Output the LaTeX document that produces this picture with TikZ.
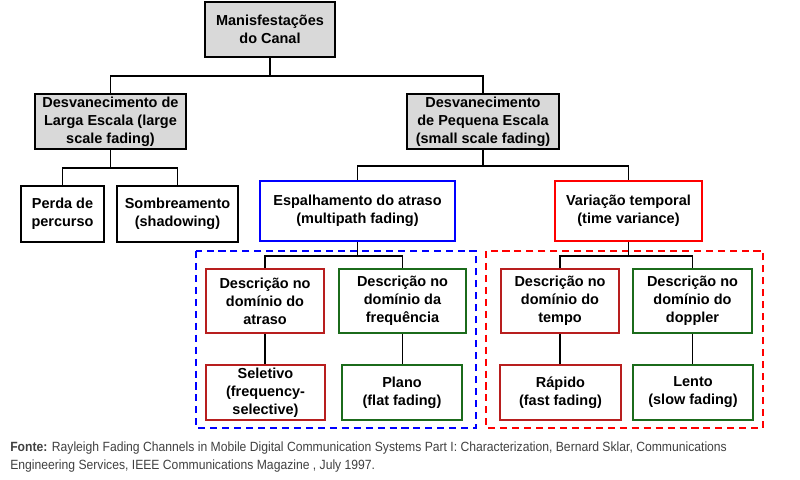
\documentclass[tikz,border=0pt]{standalone}
\usepackage{fontspec}
\setmainfont{Liberation Sans}
\newfontfamily\notefont[FakeStretch=0.91]{Liberation Sans}
\usetikzlibrary{positioning}
\definecolor{boxgray}{HTML}{D9D9D9}
\definecolor{darkred}{HTML}{B81E1E}
\definecolor{darkgreen}{HTML}{1B6B1B}
\definecolor{notegray}{HTML}{404040}
\tikzset{
	box/.style={draw, line width=1.3pt, align=center, inner sep=0pt, font=\fontsize{10.3}{12.8}\selectfont\bfseries},
	graybox/.style={box, fill=boxgray},
	conn/.style={line width=1.3pt},
	group/.style={line width=1.3pt, dash pattern=on 5pt off 3.5pt},
}

\begin{document}
\begin{tikzpicture}[x=0.025cm, y=-0.025cm]
	\useasboundingbox (0,0) rectangle (800,479);
	%\draw[thick,dotted] (0,0) rectangle (800,479);
	\node[graybox, minimum width=3.25cm, minimum height=1.375cm] (canal) at (270,29.5) {Manisfestações\\do Canal};
	\node[graybox, minimum width=3.775cm, minimum height=1.375cm] (larga) at (110.5,121.5) {Desvanecimento de\\Larga Escala (large\\scale fading)};
	\node[graybox, minimum width=3.8cm, minimum height=1.375cm] (pequena) at (483,121.5) {Desvanecimento\\de Pequena Escala\\(small scale fading)};

	\node[box, minimum width=2.075cm, minimum height=1.4cm] (perda) at (62.5,214) {Perda de\\percurso};
	\node[box, minimum width=3.025cm, minimum height=1.4cm] (sombra) at (177.5,214) {Sombreamento\\(shadowing)};
	\node[box, draw=blue, minimum width=4.875cm, minimum height=1.5cm] (espalha) at (357.5,211) {Espalhamento do atraso\\(multipath fading)};
	\node[box, draw=red, minimum width=3.675cm, minimum height=1.5cm] (variacao) at (628.5,211) {Variação temporal\\(time variance)};

	\draw[group, blue] (196,251) rectangle (476,428);
	\draw[group, red] (486,251) rectangle (763,428);

	\node[box, draw=darkred, minimum width=2.95cm, minimum height=1.6cm] (atraso) at (265,301) {Descrição no\\domínio do\\atraso};
	\node[box, draw=darkgreen, minimum width=3.175cm, minimum height=1.6cm] (frequencia) at (402.5,301) {Descrição no\\domínio da\\frequência};
	\node[box, draw=darkred, minimum width=2.95cm, minimum height=1.6cm] (tempo) at (560,301) {Descrição no\\domínio do\\tempo};
	\node[box, draw=darkgreen, minimum width=2.975cm, minimum height=1.6cm] (doppler) at (692.5,301) {Descrição no\\domínio do\\doppler};

	\node[box, draw=darkred, minimum width=2.975cm, minimum height=1.375cm] (seletivo) at (265.5,392.5) {Seletivo\\(frequency-\\selective)};
	\node[box, draw=darkgreen, minimum width=3cm, minimum height=1.375cm] (plano) at (402,392.5) {Plano\\(flat fading)};
	\node[box, draw=darkred, minimum width=3.025cm, minimum height=1.375cm] (rapido) at (560.5,392.5) {Rápido\\(fast fading)};
	\node[box, draw=darkgreen, minimum width=3cm, minimum height=1.375cm] (lento) at (693,392.5) {Lento\\(slow fading)};

	\draw[conn] (canal.south) -- ++(0,18) -| (larga.north);
	\draw[conn] (canal.south) ++(0,18) -| (pequena.north);
	\draw[conn] (larga.south) -- ++(0,18) -| (perda.north);
	\draw[conn] (larga.south) ++(0,18) -| (sombra.north);
	\draw[conn] (pequena.south) -- ++(0,16) -| (espalha.north);
	\draw[conn] (pequena.south) ++(0,16) -| (variacao.north);
	\draw[conn] (espalha.south) -- ++(0,14) -| (atraso.north);
	\draw[conn] (espalha.south) ++(0,14) -| (frequencia.north);
	\draw[conn] (variacao.south) -- ++(0,14) -| (tempo.north);
	\draw[conn] (variacao.south) ++(0,14) -| (doppler.north);
	\draw[conn] (atraso.south) -- (atraso.south |- seletivo.north);
	\draw[conn] (frequencia.south) -- (frequencia.south |- plano.north);
	\draw[conn] (tempo.south) -- (tempo.south |- rapido.north);
	\draw[conn] (doppler.south) -- (doppler.south |- lento.north);

	\node[anchor=north west, align=left, inner sep=0pt, text=notegray, font=\notefont\fontsize{9.5}{12.8}\selectfont] (fonte) at (10,441.5) {\textbf{Fonte:} Rayleigh Fading Channels in Mobile Digital Communication Systems Part I: Characterization, Bernard Sklar, Communications\\Engineering Services, IEEE Communications Magazine , July 1997.};
\end{tikzpicture}
\end{document}
